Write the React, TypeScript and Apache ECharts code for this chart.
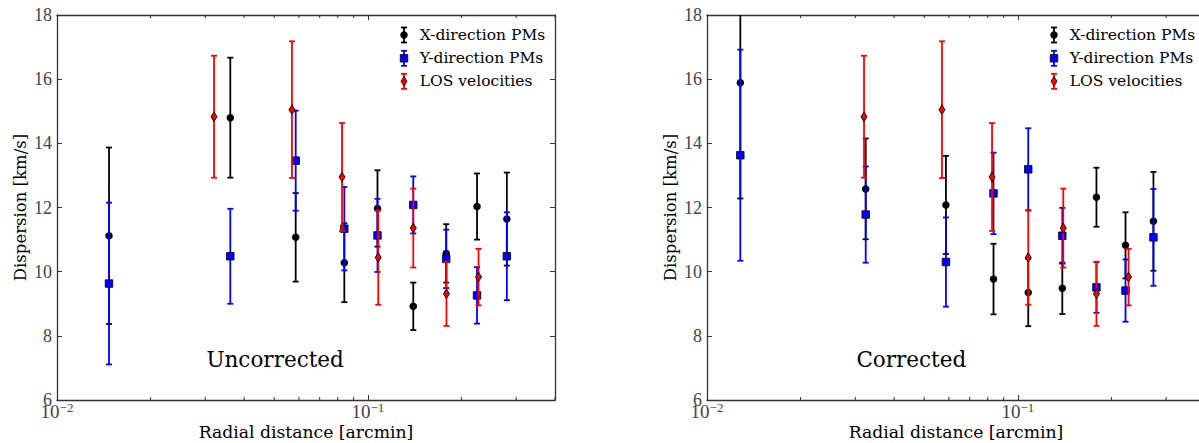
import React, { useEffect, useRef } from 'react';
import * as echarts from 'echarts';

// ---------- data ----------
const seriesNames = ['X-direction PMs', 'Y-direction PMs', 'LOS velocities'];
const panelTitles = ['Uncorrected', 'Corrected'];
const yTicks = [6, 8, 10, 12, 14, 16, 18];
const xMinorTicks = [0.02, 0.03, 0.04, 0.05, 0.06, 0.07, 0.08, 0.09, 0.2, 0.3, 0.4];

// Uncorrected panel
const uncX_r = [0.0147, 0.0361, 0.0586, 0.084, 0.1074, 0.14, 0.1787, 0.2245, 0.28];
const uncX_val = [11.12, 14.8, 11.07, 10.28, 11.97, 8.92, 10.57, 12.03, 11.64];
const uncX_err = [2.75, 1.87, 1.38, 1.23, 1.19, 0.74, 0.91, 1.03, 1.45];
const uncY_r = [0.0147, 0.0361, 0.0586, 0.084, 0.1074, 0.14, 0.1787, 0.2245, 0.28];
const uncY_val = [9.63, 10.48, 13.46, 11.34, 11.13, 12.08, 10.4, 9.26, 10.48];
const uncY_err = [2.52, 1.48, 1.56, 1.3, 1.14, 0.89, 0.91, 0.88, 1.37];

// Corrected panel
const corX_r = [0.0128, 0.0324, 0.0587, 0.0835, 0.108, 0.139, 0.179, 0.222, 0.273];
const corX_val = [15.89, 12.58, 12.08, 9.77, 9.35, 9.48, 12.32, 10.82, 11.57];
const corX_err = [3.61, 1.57, 1.53, 1.1, 1.05, 0.8, 0.92, 1.03, 1.54];
const corY_r = [0.0128, 0.0324, 0.0587, 0.0835, 0.108, 0.139, 0.179, 0.222, 0.273];
const corY_val = [13.63, 11.78, 10.3, 12.44, 13.19, 11.12, 9.51, 9.41, 11.07];
const corY_err = [3.29, 1.5, 1.39, 1.27, 1.28, 0.87, 0.79, 0.97, 1.51];

// LOS velocities (same in both panels)
const los_r = [0.032, 0.057, 0.0826, 0.108, 0.14, 0.179, 0.227];
const los_val = [14.83, 15.05, 12.95, 10.44, 11.36, 9.31, 9.83];
const los_err = [1.9, 2.13, 1.68, 1.47, 1.23, 1.0, 0.88];

// ---------- layout / style ----------
const GRID_LEFTS = [57, 707];
const GRID_TOP = 15;
const GRID_W = 498;
const GRID_H = 385;
const SERIF = 'DejaVu Serif';
const NUMF = 'Liberation Serif';
const COLORS = ['#000000', '#0000ff', '#ff0000'];
const SPINE = '#333333';
const BAR_W = 1.8;

function errSeries(panel: number, xs: number[], ys: number[], es: number[], color: string, z: number) {
  return {
    type: 'custom',
    xAxisIndex: panel * 2,
    yAxisIndex: panel * 2,
    clip: true,
    z,
    silent: true,
    data: xs.map((x, i) => [x, ys[i], es[i]]),
    encode: { x: 0, y: 1 },
    renderItem: (params: any, api: any) => {
      const x = api.value(0);
      const y = api.value(1);
      const e = api.value(2);
      const t = api.coord([x, y + e]);
      const b = api.coord([x, y - e]);
      const cw = 3;
      const st = { stroke: color, lineWidth: BAR_W };
      return {
        type: 'group',
        children: [
          { type: 'line', shape: { x1: t[0], y1: t[1], x2: b[0], y2: b[1] }, style: st },
          { type: 'line', shape: { x1: t[0] - cw, y1: t[1], x2: t[0] + cw, y2: t[1] }, style: st },
          { type: 'line', shape: { x1: b[0] - cw, y1: b[1], x2: b[0] + cw, y2: b[1] }, style: st },
        ],
      };
    },
  };
}

function markerSeries(panel: number, xs: number[], ys: number[], kind: number, z: number) {
  const symbol = kind === 0 ? 'circle' : kind === 1 ? 'rect' : 'diamond';
  const size = kind === 0 ? 7.5 : kind === 1 ? 7.5 : [6, 9.5];
  return {
    type: 'scatter',
    xAxisIndex: panel * 2,
    yAxisIndex: panel * 2,
    z,
    silent: true,
    symbol,
    symbolSize: size,
    itemStyle: {
      color: COLORS[kind],
      borderColor: '#000',
      borderWidth: kind === 0 ? 0 : 0.8,
      opacity: 1,
    },
    data: xs.map((x, i) => [x, ys[i]]),
  };
}

function minorTickSeries(panel: number) {
  return {
    type: 'custom',
    xAxisIndex: panel * 2,
    yAxisIndex: panel * 2,
    silent: true,
    z: 1,
    data: xMinorTicks.map((v) => [v, 6]),
    encode: { x: 0, y: 1 },
    renderItem: (params: any, api: any) => {
      const v = api.value(0);
      const b = api.coord([v, 6]);
      const t = api.coord([v, 18]);
      const st = { stroke: SPINE, lineWidth: 1 };
      return {
        type: 'group',
        children: [
          { type: 'line', shape: { x1: b[0], y1: b[1], x2: b[0], y2: b[1] - 3 }, style: st },
          { type: 'line', shape: { x1: t[0], y1: t[1], x2: t[0], y2: t[1] + 3 }, style: st },
        ],
      };
    },
  };
}

function xLabelFormatter(v: number) {
  const e = Math.log10(v);
  const r = Math.round(e);
  if (Math.abs(e - r) > 1e-6) return '';
  return '{b|10}{s|' + (r < 0 ? '\u2212' + -r : String(r)) + '}';
}

function legendGraphic(panel: number) {
  const gx = GRID_LEFTS[panel] + GRID_W - 151;
  const rows = [35, 58.3, 81.3];
  const children: any[] = [];
  rows.forEach((ry, i) => {
    const c = COLORS[i];
    const st = { stroke: c, lineWidth: BAR_W };
    children.push({ type: 'line', shape: { x1: gx, y1: ry - 7.5, x2: gx, y2: ry + 7.5 }, style: st });
    children.push({ type: 'line', shape: { x1: gx - 3, y1: ry - 7.5, x2: gx + 3, y2: ry - 7.5 }, style: st });
    children.push({ type: 'line', shape: { x1: gx - 3, y1: ry + 7.5, x2: gx + 3, y2: ry + 7.5 }, style: st });
    if (i === 0) {
      children.push({ type: 'circle', shape: { cx: gx, cy: ry, r: 3.75 }, style: { fill: '#000' } });
    } else if (i === 1) {
      children.push({
        type: 'rect',
        shape: { x: gx - 3.75, y: ry - 3.75, width: 7.5, height: 7.5 },
        style: { fill: c, stroke: '#000', lineWidth: 0.8 },
      });
    } else {
      children.push({
        type: 'polygon',
        shape: { points: [[gx, ry - 4.75], [gx + 3, ry], [gx, ry + 4.75], [gx - 3, ry]] },
        style: { fill: c, stroke: '#000', lineWidth: 0.8 },
      });
    }
    children.push({
      type: 'text',
      x: gx + 15.7,
      y: ry,
      style: {
        text: seriesNames[i],
        fill: '#000',
        fontFamily: SERIF,
        fontSize: 15.5,
        verticalAlign: 'middle',
        align: 'left',
      },
    });
  });
  return { type: 'group', children, z: 100 };
}

function titleGraphic(panel: number) {
  return {
    type: 'text',
    x: GRID_LEFTS[panel] + 0.3 * GRID_W,
    y: 359.5,
    z: 100,
    style: {
      text: panelTitles[panel],
      fill: '#000',
      fontFamily: SERIF,
      fontSize: 21.5,
      align: 'left',
      verticalAlign: 'middle',
    },
  };
}

function buildOption() {
  const grids = GRID_LEFTS.map((l) => ({
    left: l,
    top: GRID_TOP,
    width: GRID_W,
    height: GRID_H,
    outerBoundsMode: 'none',
    containLabel: false,
  }));
  const xAxes: any[] = [];
  const yAxes: any[] = [];
  [0, 1].forEach((p) => {
    xAxes.push({
      type: 'log',
      logBase: 10,
      gridIndex: p,
      position: 'bottom',
      min: 0.01,
      max: 0.4,
      name: 'Radial distance [arcmin]',
      nameLocation: 'middle',
      nameGap: 23,
      nameMoveOverlap: false,
      nameTextStyle: { fontFamily: SERIF, fontSize: 17.2, color: '#000' },
      axisLine: { show: true, lineStyle: { color: SPINE, width: 1.3 } },
      axisTick: { show: true, inside: true, length: 5, lineStyle: { color: SPINE, width: 1 } },
      splitLine: { show: false },
      axisLabel: {
        show: true,
        margin: 1,
        showMaxLabel: false,
        formatter: xLabelFormatter,
        rich: {
          b: { fontFamily: NUMF, fontSize: 19, color: '#444', verticalAlign: 'bottom', lineHeight: 20 },
          s: { fontFamily: NUMF, fontSize: 13, color: '#444', verticalAlign: 'top', lineHeight: 10 },
        },
      },
    });
    xAxes.push({
      type: 'log',
      logBase: 10,
      gridIndex: p,
      position: 'top',
      min: 0.01,
      max: 0.4,
      axisLine: { show: true, lineStyle: { color: SPINE, width: 1.3 } },
      axisTick: { show: true, inside: true, length: 5, lineStyle: { color: SPINE, width: 1 } },
      axisLabel: { show: false },
      splitLine: { show: false },
    });
    yAxes.push({
      type: 'value',
      gridIndex: p,
      position: 'left',
      min: 6,
      max: 18,
      interval: 2,
      name: 'Dispersion [km/s]',
      nameLocation: 'middle',
      nameGap: 28,
      nameMoveOverlap: false,
      nameTextStyle: { fontFamily: SERIF, fontSize: 16.5, color: '#000' },
      axisLine: { show: true, lineStyle: { color: SPINE, width: 1.3 } },
      axisTick: { show: true, inside: true, length: 5, lineStyle: { color: SPINE, width: 1 } },
      splitLine: { show: false },
      axisLabel: {
        show: true,
        margin: 5,
        fontFamily: NUMF,
        fontSize: 18,
        lineHeight: 10,
        color: '#444',
        formatter: (v: number) => (yTicks.indexOf(v) >= 0 ? String(v) : ''),
      },
    });
    yAxes.push({
      type: 'value',
      gridIndex: p,
      position: 'right',
      min: 6,
      max: 18,
      interval: 2,
      axisLine: { show: true, lineStyle: { color: SPINE, width: 1.3 } },
      axisTick: { show: true, inside: true, length: 5, lineStyle: { color: SPINE, width: 1 } },
      axisLabel: { show: false },
      splitLine: { show: false },
    });
  });

  const series: any[] = [
    minorTickSeries(0),
    errSeries(0, uncX_r, uncX_val, uncX_err, COLORS[0], 2),
    markerSeries(0, uncX_r, uncX_val, 0, 3),
    errSeries(0, uncY_r, uncY_val, uncY_err, COLORS[1], 4),
    markerSeries(0, uncY_r, uncY_val, 1, 5),
    errSeries(0, los_r, los_val, los_err, COLORS[2], 6),
    markerSeries(0, los_r, los_val, 2, 7),
    minorTickSeries(1),
    errSeries(1, corX_r, corX_val, corX_err, COLORS[0], 2),
    markerSeries(1, corX_r, corX_val, 0, 3),
    errSeries(1, corY_r, corY_val, corY_err, COLORS[1], 4),
    markerSeries(1, corY_r, corY_val, 1, 5),
    errSeries(1, los_r, los_val, los_err, COLORS[2], 6),
    markerSeries(1, los_r, los_val, 2, 7),
  ];

  return {
    animation: false,
    backgroundColor: '#ffffff',
    grid: grids,
    xAxis: xAxes,
    yAxis: yAxes,
    series,
    graphic: [legendGraphic(0), legendGraphic(1), titleGraphic(0), titleGraphic(1)],
  };
}

export default function App() {
  const ref = useRef<HTMLDivElement>(null);
  useEffect(() => {
    if (!ref.current) return;
    const chart = echarts.init(ref.current, undefined, { renderer: 'svg' });
    chart.setOption(buildOption() as any);
    return () => chart.dispose();
  }, []);
  return (
    <div
      style={{
        position: 'fixed',
        left: 0,
        top: 0,
        width: 1199,
        height: 443,
        overflow: 'hidden',
        background: '#fff',
      }}
    >
      <div ref={ref} style={{ width: 1212, height: 443 }} />
    </div>
  );
}
